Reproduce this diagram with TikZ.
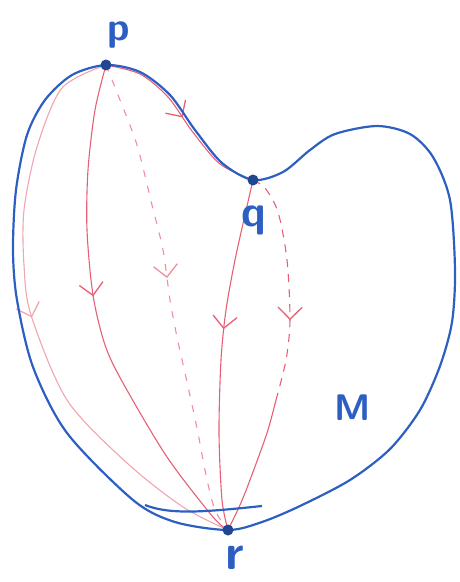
\documentclass[tikz,border=0pt]{standalone}
\usepackage{tikz}
\usetikzlibrary{arrows.meta,decorations.markings}
\definecolor{M-BLUE}{RGB}{45, 95, 195}
\definecolor{GEO-RED}{RGB}{232, 95, 115}
\definecolor{GEO-PALE}{RGB}{240, 165, 175}

\tikzset{
  pt/.style={circle, fill=M-BLUE!75!black, inner sep=0pt, minimum size=11pt},
  lab/.style={M-BLUE, inner sep=1pt, font=\sffamily\bfseries\fontsize{40}{40}\selectfont},
  rim/.style={M-BLUE, line width=2.2pt},
  geo/.style={GEO-RED, line width=1.1pt},
  midarrow/.style={postaction={decorate}, decoration={markings,
      mark=at position #1 with {\arrow[solid]{Straight Barb[length=12pt,width=24pt,line width=1.3pt]}}}},
}

\begin{document}
\begin{tikzpicture}[x=1pt, y=-1pt]
  \useasboundingbox (0,0) rectangle (460,582);

  % Points p, q, r
  \coordinate (p) at (106,65);
  \coordinate (q) at (253,180);
  \coordinate (r) at (228,530);
  \coordinate (qmid) at (276,400);

  % Geodesics from p (left to right)
  \draw[geo, GEO-PALE, midarrow=0.49] plot[smooth] coordinates
    {(p) (62,88) (37,147) (24,210) (24,265) (31,315) (67,400) (127,463) (183,507) (r)};
  \draw[geo, midarrow=0.46] plot[smooth] coordinates
    {(p) (95,110) (88,170) (87,230) (93,295) (105,345) (123,383) (167,457) (213,517) (r)};
  \draw[geo, GEO-RED!70, dash pattern=on 7pt off 9pt, midarrow=0.46] plot[smooth] coordinates
    {(p) (120,100) (137,145) (152,205) (163,250) (170,300) (177,337) (185,373) (197,428) (206,475) (215,510) (r)};

  % Along the boundary from p to q
  \draw[geo, midarrow=0.5] plot[smooth] coordinates
    {(p) (140,74) (168,97) (192,131) (220,164) (q)};

  % Geodesics from q
  \draw[geo, midarrow=0.43] plot[smooth] coordinates
    {(q) (245,215) (235,260) (226,310) (221,360) (219,433) (222,500) (r)};
  \draw[geo, dash pattern=on 8pt off 7pt, midarrow=0.65] plot[smooth] coordinates
    {(q) (265,188) (278,212) (287,260) (290,320) (286,360) (qmid)};
  \draw[geo] plot[smooth] coordinates {(qmid) (267,433) (250,480) (240,505) (r)};

  % Boundary of M
  \draw[rim] plot[smooth cycle] coordinates
    {(p) (140,72) (170,95) (195,130) (222,163) (q) (283,172) (310,150) (335,134)
     (377,126) (410,134) (433,157) (450,200) (455,270) (452,322) (440,366)
     (420,410) (390,449) (350,480) (300,506) (262,522) (r) (175,522) (133,500)
     (67,433) (33,367) (17,300) (13,250) (16,190) (27,135) (45,100) (72,75)};
  \draw[rim] (145,505) .. controls (170,515) and (205,512) .. (262,506);

  % Dots and labels
  \node[pt] (pdot) at (p) {};
  \node[pt] (qdot) at (q) {};
  \node[pt] (rdot) at (r) {};
  \node[lab] (plab) at (119,35) {p};
  \node[lab, font=\sffamily\bfseries\fontsize{44}{44}\selectfont] (qlab) at (254,220) {q};
  \node[lab, font=\sffamily\bfseries\fontsize{50}{50}\selectfont] (rlab) at (235,558) {r};
  \node[lab, font=\sffamily\bfseries\fontsize{37}{37}\selectfont] (mlab) at (353,408) {M};
\end{tikzpicture}
\end{document}
